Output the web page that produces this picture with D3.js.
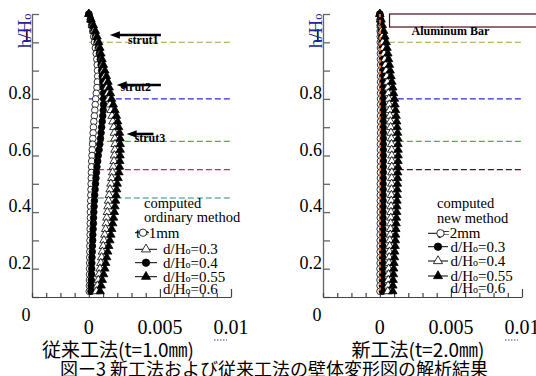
<!DOCTYPE html>
<html>
<head>
<meta charset="utf-8">
<script src="https://cdn.jsdelivr.net/npm/d3@7"></script>
<style>
  body { margin: 0; background: #fff; }
  svg { display: block; }
</style>
</head>
<body>
<svg id="chart" width="536" height="376"></svg>
<script>
// wall heights h/H0 where the deflection was computed (top of wall first)
const heights = [1.10,1.08,1.06,1.04,1.02,1.00,0.98,0.96,0.94,0.92,0.90,0.88,0.86,0.84,0.82,0.80,0.78,0.76,0.74,0.72,
  0.70,0.68,0.66,0.64,0.62,0.60,0.58,0.56,0.54,0.52,0.50,0.48,0.46,0.44,0.42,0.40,0.38,0.36,0.34,0.32,
  0.30,0.28,0.26,0.24,0.22,0.20,0.18,0.16,0.14,0.12];

// ordinary method (t=1.0mm)
const ordOpenCircle = [0,0.00010,0.00019,0.00027,0.00034,0.00040,0.00046,0.00052,0.00056,0.00059,
  0.00061,0.00062,0.00060,0.00057,0.00052,0.00048,0.00045,0.00042,0.00039,0.00035,
  0.00032,0.00030,0.00028,0.00026,0.00024,0.00022,0.00020,0.00019,0.00018,0.00017,
  0.00016,0.00015,0.00014,0.00013,0.00012,0.00011,0.00011,0.00010,0.00009,0.00009,
  0.00008,0.00007,0.00007,0.00006,0.00006,0.00005,0.00005,0.00004,0.00004,0.00003];
const ordFilledCircle = [0,0.00012,0.00024,0.00035,0.00047,0.00058,0.00066,0.00074,0.00080,0.00086,
  0.00090,0.00094,0.00098,0.00101,0.00103,0.00104,0.00103,0.00101,0.00098,0.00094,
  0.00090,0.00086,0.00082,0.00077,0.00072,0.00066,0.00062,0.00057,0.00053,0.00050,
  0.00047,0.00044,0.00041,0.00039,0.00037,0.00035,0.00033,0.00032,0.00030,0.00028,
  0.00027,0.00025,0.00024,0.00022,0.00021,0.00020,0.00019,0.00017,0.00016,0.00015];
const ordOpenTri = [0,0.00013,0.00025,0.00036,0.00048,0.00060,0.00069,0.00078,0.00087,0.00094,
  0.00102,0.00111,0.00120,0.00127,0.00134,0.00140,0.00148,0.00156,0.00163,0.00169,
  0.00175,0.00179,0.00183,0.00184,0.00183,0.00180,0.00177,0.00172,0.00167,0.00161,
  0.00155,0.00149,0.00143,0.00138,0.00134,0.00130,0.00126,0.00122,0.00118,0.00112,
  0.00106,0.00101,0.00095,0.00090,0.00084,0.00078,0.00072,0.00066,0.00060,0.00053];
const ordFilledTri = [0,0.00016,0.00032,0.00046,0.00058,0.00070,0.00078,0.00085,0.00093,0.00103,
  0.00113,0.00124,0.00135,0.00144,0.00152,0.00160,0.00172,0.00184,0.00194,0.00203,
  0.00210,0.00216,0.00220,0.00221,0.00221,0.00220,0.00218,0.00216,0.00212,0.00206,
  0.00200,0.00196,0.00192,0.00188,0.00184,0.00180,0.00174,0.00168,0.00161,0.00155,
  0.00148,0.00140,0.00133,0.00126,0.00119,0.00113,0.00104,0.00095,0.00087,0.00080];

// new method (t=2.0mm)
const newOpenCircle = [0,0.00001,0.00002,0.00002,0.00003,0.00003,0.00004,0.00004,0.00004,0.00005,
  0.00005,0.00005,0.00005,0.00005,0.00005,0.00005,0.00005,0.00005,0.00005,0.00005,
  0.00005,0.00005,0.00004,0.00004,0.00004,0.00004,0.00004,0.00004,0.00004,0.00004,
  0.00003,0.00003,0.00003,0.00003,0.00003,0.00003,0.00003,0.00003,0.00002,0.00002,
  0.00002,0.00002,0.00002,0.00002,0.00002,0.00001,0.00001,0.00001,0.00001,0.00001];
const newFilledCircle = [0,0.00004,0.00007,0.00010,0.00013,0.00015,0.00016,0.00017,0.00018,0.00019,
  0.00020,0.00020,0.00021,0.00021,0.00022,0.00022,0.00022,0.00023,0.00023,0.00023,
  0.00023,0.00024,0.00024,0.00024,0.00024,0.00024,0.00024,0.00024,0.00024,0.00023,
  0.00023,0.00023,0.00023,0.00023,0.00022,0.00022,0.00022,0.00021,0.00021,0.00021,
  0.00020,0.00020,0.00020,0.00019,0.00019,0.00019,0.00019,0.00018,0.00018,0.00018];
const newOpenTri = [0,0.00004,0.00008,0.00012,0.00016,0.00020,0.00025,0.00030,0.00035,0.00040,
  0.00045,0.00049,0.00053,0.00057,0.00060,0.00063,0.00066,0.00069,0.00071,0.00074,
  0.00076,0.00078,0.00081,0.00082,0.00083,0.00084,0.00084,0.00084,0.00084,0.00083,
  0.00083,0.00082,0.00081,0.00080,0.00079,0.00078,0.00077,0.00076,0.00075,0.00073,
  0.00070,0.00069,0.00067,0.00066,0.00064,0.00062,0.00061,0.00059,0.00058,0.00056];
const newFilledTri = [0,0.00009,0.00018,0.00027,0.00036,0.00045,0.00051,0.00057,0.00062,0.00068,
  0.00073,0.00079,0.00085,0.00091,0.00097,0.00103,0.00107,0.00111,0.00115,0.00119,
  0.00122,0.00125,0.00127,0.00128,0.00129,0.00129,0.00128,0.00127,0.00126,0.00125,
  0.00124,0.00123,0.00122,0.00121,0.00120,0.00119,0.00117,0.00115,0.00113,0.00111,
  0.00110,0.00108,0.00105,0.00103,0.00100,0.00098,0.00096,0.00094,0.00092,0.00091];

// strut / support levels (h/H0) drawn as dashed lines
const ordStrutLevels = [1.0, 0.8, 0.65, 0.55, 0.45];
const newStrutLevels = [1.0, 0.8, 0.65, 0.55];

// ticks
const xTickValues = [0, 0.005, 0.01];
const xTickLabels = ["0", "0.005", "0.01"];
const yTickValues = [0.2, 0.4, 0.6, 0.8, 1.0];
const yTickLabels = ["0.2", "0.4", "0.6", "0.8", "1"];

// legends
const ordLegendHead = ["computed", "ordinary method"];
const ordLegendLabels = ["t=1mm", "d/H|0|=0.3", "d/H|0|=0.4", "d/H|0|=0.55", "d/H|0|=0.6"];
const newLegendHead = ["computed", "new method"];
const newLegendLabels = ["t=2mm", "d/H|0|=0.3", "d/H|0|=0.4", "d/H|0|=0.55", "d/H|0|=0.6"];
const strutNames = ["strut1", "strut2", "strut3"];

const serif = '"Liberation Serif","Times New Roman",serif';
const jp = '"Noto Sans CJK JP","Noto Sans CJK SC",sans-serif';

const svg = d3.select("#chart");
svg.append("rect").attr("width", 536).attr("height", 376).attr("fill", "#fff");

const y = d3.scaleLinear().domain([0.1, 1.1]).range([297, 14]);

// writes "d/H0" style text with a small zero
function richText(sel, str, small) {
  str.split("|").forEach((part, i) => {
    const t = sel.append("tspan").text(i === 1 ? "o" : part);
    if (i === 1) t.attr("font-size", small);
  });
}

function marker(sel, kind, size) {
  const isCircle = kind === "circle" || kind === "fcircle";
  const filled = kind === "fcircle" || kind === "ftri";
  if (isCircle) {
    sel.append("circle").attr("r", size === "legend" ? 3.7 : 3.3);
  } else {
    sel.append("path").attr("d", d3.symbol(d3.symbolTriangle, size === "legend" ? 36 : 30)());
  }
  sel.selectAll("circle,path")
    .attr("fill", filled ? "#000" : "#fff")
    .attr("stroke", "#000").attr("stroke-width", 0.8);
}

function drawPanel(p) {
  const x = d3.scaleLinear().domain([-0.004, 0.01]).range([p.x0, p.x0 + 199]);
  const g = svg.append("g");

  // dashed strut levels
  g.selectAll("line.level").data(p.levels).enter().append("line")
    .attr("class", "level")
    .attr("x1", x(0)).attr("x2", x(0.01))
    .attr("y1", d => y(d)).attr("y2", d => y(d))
    .attr("stroke", (d, i) => p.levelColors[i])
    .attr("stroke-width", 1.1)
    .attr("stroke-dasharray", "6,3");

  // y axis, ticks inward
  const ya = g.append("g").attr("transform", `translate(${p.x0},0)`)
    .call(d3.axisLeft(y).ticks(10).tickSizeInner(-7).tickSizeOuter(0).tickFormat(""));
  ya.selectAll("path,line").attr("stroke", "#666").attr("stroke-width", 1.3);

  // x axis, ticks inward every 0.001, longer every 0.005
  const xa = g.append("g").attr("transform", "translate(0,297)")
    .call(d3.axisBottom(x).ticks(14).tickSizeOuter(0).tickFormat(""));
  xa.selectAll("line").attr("y2", d => Math.round(Math.abs(d) * 1000) % 5 === 0 ? -8 : -4);
  xa.selectAll("path,line").attr("stroke", "#444").attr("stroke-width", 1.2);

  // tick labels
  g.selectAll("text.xt").data(xTickValues).enter().append("text")
    .attr("x", d => x(d)).attr("y", 334)
    .attr("text-anchor", "middle")
    .attr("font-family", serif).attr("font-size", 20)
    .text((d, i) => xTickLabels[i]);

  g.selectAll("text.yt").data(yTickValues).enter().append("text")
    .attr("x", p.x0 - 1).attr("y", d => y(d))
    .attr("text-anchor", "end")
    .attr("font-family", serif).attr("font-size", 18)
    .text((d, i) => yTickLabels[i]);

  g.append("text")
    .attr("x", p.x0 - 6).attr("y", y(0) - 4)
    .attr("text-anchor", "middle")
    .attr("font-family", serif).attr("font-size", 18)
    .text("0");

  // rotated axis label h/H0
  const yl = g.append("text")
    .attr("transform", `translate(${p.x0 - 1},${y(1.04)}) rotate(-90)`)
    .attr("text-anchor", "middle")
    .attr("font-family", serif).attr("font-size", 19)
    .attr("fill", "#22229a");
  richText(yl, "h/H|0|", 12.5);

  // spell-check squiggle under 0.01
  g.append("line")
    .attr("x1", x(0.01) - 17).attr("x2", x(0.01) - 4)
    .attr("y1", 340).attr("y2", 340)
    .attr("stroke", "#3340c0").attr("stroke-width", 1.2)
    .attr("stroke-dasharray", "1.5,1.5");

  // series: line + markers
  p.series.forEach(s => {
    const pts = heights.map((h, i) => [x(s.values[i]), y(h)]);
    g.append("path")
      .attr("d", d3.line()(pts))
      .attr("fill", "none").attr("stroke", "#000").attr("stroke-width", 0.7);
    const m = g.append("g").selectAll("g").data(pts).enter().append("g")
      .attr("transform", d => `translate(${d[0]},${d[1]})`);
    marker(m, s.kind, "plot");
  });

  if (p.zeroLine) {
    g.append("line")
      .attr("x1", x(0)).attr("x2", x(0))
      .attr("y1", y(heights[0])).attr("y2", y(heights[heights.length - 1]))
      .attr("stroke", "#f07a2a").attr("stroke-width", 2)
      .attr("stroke-dasharray", "3,2.7");
  }

  // legend
  const lg = g.append("g").attr("font-family", serif);
  p.legendHead.forEach((t, i) => {
    lg.append("text").attr("x", p.legend.textX0).attr("y", p.legend.headY[i])
      .attr("font-size", 14.5).text(t);
  });
  p.legendLabels.forEach((t, i) => {
    const ry = p.legend.rowY[i];
    const kind = p.legend.kinds[i];
    const tx = i === 0 ? p.legend.firstTextX : p.legend.textX;
    const txt = lg.append("text").attr("x", tx).attr("y", ry + 5).attr("font-size", 15);
    richText(txt, t, 10);
    if (kind) {
      lg.append("line")
        .attr("x1", p.legend.lineX[0]).attr("x2", i === 0 ? p.legend.firstLineEnd : p.legend.lineX[1])
        .attr("y1", ry).attr("y2", ry)
        .attr("stroke", "#000").attr("stroke-width", 1);
      const mk = lg.append("g")
        .attr("transform", `translate(${i === 0 ? p.legend.firstMarkX : p.legend.markX},${ry})`);
      marker(mk, kind, "legend");
    }
  });

  return x;
}

// ---------- left: ordinary method ----------
const xL = drawPanel({
  x0: 32,
  levels: ordStrutLevels,
  levelColors: ["#a3a33a", "#2a2ae0", "#45b845", "#b0306a", "#2a8a8a"],
  series: [
    { values: ordOpenCircle, kind: "circle" },
    { values: ordFilledCircle, kind: "fcircle" },
    { values: ordOpenTri, kind: "tri" },
    { values: ordFilledTri, kind: "ftri" }
  ],
  legendHead: ordLegendHead,
  legendLabels: ordLegendLabels,
  legend: {
    textX0: 144, headY: [208, 222],
    rowY: [232.7, 249.3, 262.7, 276.7, 289],
    kinds: ["circle", "tri", "fcircle", "ftri", null],
    lineX: [135, 157], firstLineEnd: 149, markX: 146, firstMarkX: 143,
    textX: 163, firstTextX: 136
  }
});

// ---------- right: new method ----------
const xR = drawPanel({
  x0: 323,
  levels: newStrutLevels,
  levelColors: ["#a3a33a", "#2a2ae0", "#45b845", "#5a0a28"],
  series: [
    { values: newOpenCircle, kind: "circle" },
    { values: newFilledCircle, kind: "fcircle" },
    { values: newOpenTri, kind: "tri" },
    { values: newFilledTri, kind: "ftri" }
  ],
  zeroLine: true,
  legendHead: newLegendHead,
  legendLabels: newLegendLabels,
  legend: {
    textX0: 437, headY: [208, 223],
    rowY: [233.3, 246.7, 261, 276, 288],
    kinds: ["circle", "fcircle", "tri", "ftri", null],
    lineX: [428, 448], firstLineEnd: 441, markX: 438, firstMarkX: 440.5,
    textX: 450.5, firstTextX: 437
  }
});

// strut arrows (left panel): head x, tail x, level, label x, label level
const arrowSpec = [
  [0.00148, 0.00507, 1.026, 0.00275, 0.994],
  [0.00196, 0.00507, 0.849, 0.00222, 0.827],
  [0.00266, 0.00455, 0.676, 0.00322, 0.649]
];
arrowSpec.forEach((a, i) => {
  const hx = xL(a[0]), tx = xL(a[1]), ay = y(a[2]);
  svg.append("line")
    .attr("x1", hx + 6).attr("x2", tx).attr("y1", ay).attr("y2", ay)
    .attr("stroke", "#000").attr("stroke-width", 2.6);
  svg.append("path")
    .attr("d", `M${hx},${ay}L${hx + 10},${ay - 3.8}L${hx + 10},${ay + 3.8}Z`)
    .attr("fill", "#000");
  svg.append("text")
    .attr("x", xL(a[3])).attr("y", y(a[4]))
    .attr("font-family", serif).attr("font-size", 12).attr("font-weight", "bold")
    .text(strutNames[i]);
});

// aluminium bar (right panel)
svg.append("rect")
  .attr("x", xR(0.00068)).attr("y", y(1.1))
  .attr("width", 200).attr("height", y(1.054) - y(1.1))
  .attr("fill", "#fff").attr("stroke", "#4a0c14").attr("stroke-width", 1.2);
svg.append("text")
  .attr("x", xR(0.00223)).attr("y", 35)
  .attr("font-family", serif).attr("font-size", 12).attr("font-weight", "bold")
  .text("Aluminum Bar");

// axis titles and caption
svg.append("text")
  .attr("x", 118).attr("y", 357)
  .attr("text-anchor", "middle")
  .attr("font-family", jp).attr("font-size", 19)
  .text("従来工法(t=1.0㎜)");
svg.append("text")
  .attr("x", 418).attr("y", 357)
  .attr("text-anchor", "middle")
  .attr("font-family", jp).attr("font-size", 19)
  .text("新工法(t=2.0㎜)");
svg.append("text")
  .attr("x", 274).attr("y", 376)
  .attr("text-anchor", "middle")
  .attr("font-family", jp).attr("font-size", 18)
  .text("図ー3 新工法および従来工法の壁体変形図の解析結果");
</script>
</body>
</html>
